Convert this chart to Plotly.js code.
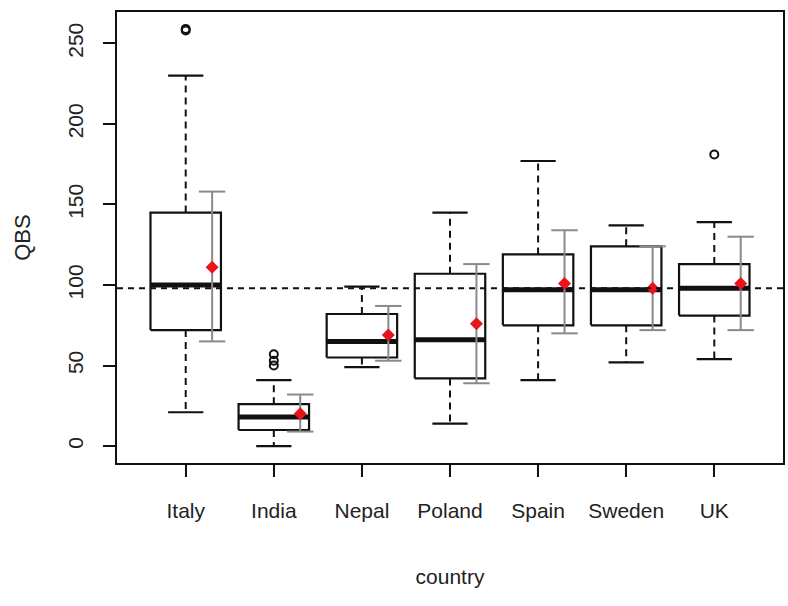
<!DOCTYPE html>
<html>
<head>
<meta charset="utf-8">
<script src="https://cdn.plot.ly/plotly-3.0.1.min.js"></script>
<style>html,body{margin:0;padding:0;background:#fff;}</style>
</head>
<body>
<div id="chart" style="width:788px;height:606px;"></div>
<script>
// ---- data ----
const categories    = ['Italy', 'India', 'Nepal', 'Poland', 'Spain', 'Sweden', 'UK'];
const lowerWhisker  = [21, 0, 49, 14, 41, 52, 54];
const q1            = [72, 10, 55, 42, 75, 75, 81];
const median        = [100, 18, 65, 66, 97, 97, 98];
const q3            = [145, 26, 82, 107, 119, 124, 113];
const upperWhisker  = [230, 41, 99, 145, 177, 137, 139];
const means         = [111, 20, 69, 76, 101, 98, 101];
const errLow        = [65, 9, 53, 39, 70, 72, 72];
const errHigh       = [158, 32, 87, 113, 134, 124, 130];
const outlierGroup  = ['Italy', 'Italy', 'India', 'India', 'India', 'UK'];
const outlierValue  = [258, 259, 50, 53, 57, 181];
const referenceValue = 98;

// ---- layout constants ----
const boxHalf = 0.4, capHalf = 0.2, errOffset = 0.3, errCapHalf = 0.15;
const pos = categories.map((c, i) => i + 1);

function segs(build) {
  const x = [], y = [];
  pos.forEach((p, i) => build(p, i).forEach(s => {
    x.push(s[0], s[2], null); y.push(s[1], s[3], null);
  }));
  return {x, y};
}

const whisk = segs((p, i) => [[p, q3[i], p, upperWhisker[i]], [p, q1[i], p, lowerWhisker[i]]]);
const caps = segs((p, i) => [[p - capHalf, upperWhisker[i], p + capHalf, upperWhisker[i]],
                             [p - capHalf, lowerWhisker[i], p + capHalf, lowerWhisker[i]]]);
const boxX = [], boxY = [];
pos.forEach((p, i) => {
  boxX.push(p - boxHalf, p + boxHalf, p + boxHalf, p - boxHalf, p - boxHalf, null);
  boxY.push(q1[i], q1[i], q3[i], q3[i], q1[i], null);
});
const med = segs((p, i) => [[p - boxHalf, median[i], p + boxHalf, median[i]]]);
const errV = segs((p, i) => [[p + errOffset, errLow[i], p + errOffset, errHigh[i]]]);
const errC = segs((p, i) => [[p + errOffset - errCapHalf, errHigh[i], p + errOffset + errCapHalf, errHigh[i]],
                             [p + errOffset - errCapHalf, errLow[i], p + errOffset + errCapHalf, errLow[i]]]);

const black = '#111';
const fam = 'Liberation Sans, Arial, sans-serif';
const traces = [
  {x: whisk.x, y: whisk.y, mode: 'lines', line: {color: black, width: 2, dash: '7px,5px'}, hoverinfo: 'skip'},
  {x: caps.x, y: caps.y, mode: 'lines', line: {color: black, width: 2.2}, hoverinfo: 'skip'},
  {x: boxX, y: boxY, mode: 'lines', line: {color: black, width: 2.2}, hoverinfo: 'skip'},
  {x: med.x, y: med.y, mode: 'lines', line: {color: black, width: 5}, hoverinfo: 'skip'},
  {x: outlierGroup.map(g => categories.indexOf(g) + 1), y: outlierValue, mode: 'markers',
   marker: {symbol: 'circle-open', size: 8, color: black, line: {width: 2, color: black}}},
  {x: errV.x, y: errV.y, mode: 'lines', line: {color: '#8a8a8a', width: 2}, hoverinfo: 'skip'},
  {x: errC.x, y: errC.y, mode: 'lines', line: {color: '#8a8a8a', width: 2}, hoverinfo: 'skip'},
  {x: pos.map(p => p + errOffset), y: means, mode: 'markers',
   marker: {symbol: 'diamond', size: 10, color: '#e8141c'}}
];

const layout = {
  width: 788, height: 606,
  margin: {l: 117, r: 5, t: 12, b: 143},
  paper_bgcolor: '#fff', plot_bgcolor: '#fff',
  showlegend: false,
  font: {family: fam, color: '#222'},
  xaxis: {
    range: [0.22, 7.78], tickvals: pos, ticktext: categories,
    showgrid: false, zeroline: false, showline: true, mirror: true,
    linecolor: black, linewidth: 2, ticks: 'outside', ticklen: 12, tickwidth: 2, tickcolor: black,
    tickfont: {size: 21, family: fam}, ticklabelstandoff: 16,
    title: {text: 'country', font: {size: 21, family: fam}, standoff: 48}
  },
  yaxis: {
    range: [-10.5, 269.5], tickvals: [0, 50, 100, 150, 200, 250],
    showgrid: false, zeroline: false, showline: true, mirror: true,
    linecolor: black, linewidth: 2, ticks: 'outside', ticklen: 12, tickwidth: 2, tickcolor: black,
    tickangle: -90,
    tickfont: {size: 21, family: fam},
    ticklabelstandoff: 12,
    title: {text: 'QBS', font: {size: 22, family: fam}, standoff: 27}
  },
  shapes: [{type: 'line', xref: 'paper', x0: 0, x1: 1, yref: 'y', y0: referenceValue, y1: referenceValue,
            line: {color: black, width: 2, dash: '6px,5px'}}]
};

Plotly.newPlot('chart', traces, layout, {displayModeBar: false, staticPlot: true});
</script>
</body>
</html>
